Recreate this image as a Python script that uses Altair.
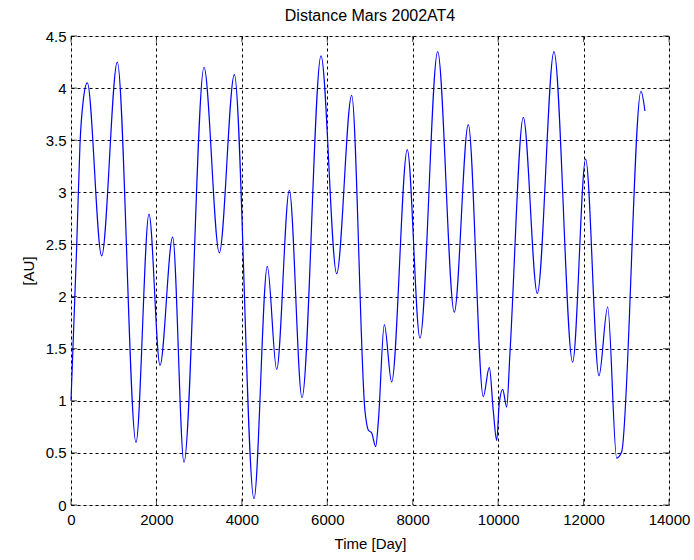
import altair as alt
import pandas as pd

days = [0, 133, 211, 289, 382, 718, 1084, 1522, 1826, 2084, 2380, 2645, 3114, 3472, 3824,
        4284, 4596, 4815, 5111, 5408, 5853, 6220, 6571, 6883, 6960, 7040, 7133, 7195, 7335,
        7507, 7873, 8170, 8584, 8973, 9301, 9653, 9793, 9887, 9966, 10027, 10106, 10200,
        10277, 10589, 10917, 11307, 11744, 12049, 12361, 12564, 12775, 12892, 13344, 13437]
dist = [1.00, 2.48, 3.47, 3.89, 4.05, 2.39, 4.25, 0.60, 2.79, 1.34, 2.57, 0.41, 4.20, 2.42, 4.13,
        0.06, 2.29, 1.30, 3.02, 1.03, 4.31, 2.22, 3.93, 0.90, 0.72, 0.69, 0.56, 0.80, 1.73,
        1.18, 3.41, 1.60, 4.35, 1.85, 3.65, 1.04, 1.32, 0.90, 0.62, 0.98, 1.11, 0.94,
        1.46, 3.72, 2.03, 4.35, 1.37, 3.32, 1.24, 1.90, 0.45, 0.51, 3.97, 3.78]
x_ticks = [0, 2000, 4000, 6000, 8000, 10000, 12000, 14000]
y_ticks = [0, 0.5, 1, 1.5, 2, 2.5, 3, 3.5, 4, 4.5]

W, H = 598, 469
FONT = "Liberation Sans"

df = pd.DataFrame({"day": days, "dist": dist})
xt = pd.DataFrame({"t": x_ticks})
yt = pd.DataFrame({"t": y_ticks})

xscale = alt.Scale(domain=[0, 14000], nice=False, zero=False)
yscale = alt.Scale(domain=[0, 4.5], nice=False, zero=False)

grid_kw = dict(grid=True, gridColor="black", gridDash=[3, 3], gridOpacity=1, gridWidth=1,
               tickSize=0, domain=False, labelColor="black", labelFont=FONT, labelFontSize=15,
               titleFont=FONT, titleFontSize=15, titleFontWeight="normal", titleColor="black")

line = alt.Chart(df).mark_line(color="#0000ff", strokeWidth=1.2, interpolate="monotone").encode(
    x=alt.X("day:Q", scale=xscale,
            axis=alt.Axis(values=x_ticks, format="d", title="Time [Day]", labelPadding=7,
                          titlePadding=9, labelFlush=False, **grid_kw)),
    y=alt.Y("dist:Q", scale=yscale,
            axis=alt.Axis(values=y_ticks, format=".1~f", title="[AU]", labelPadding=5,
                          titlePadding=9, labelFlush=False, **grid_kw)),
)

xt_bottom = alt.Chart(xt).mark_tick(color="black", thickness=1, size=6, orient="vertical").encode(
    x=alt.X("t:Q", scale=xscale), y=alt.value(H - 3))
xt_top = alt.Chart(xt).mark_tick(color="black", thickness=1, size=6, orient="vertical").encode(
    x=alt.X("t:Q", scale=xscale), y=alt.value(3))
yt_left = alt.Chart(yt).mark_tick(color="black", thickness=1, size=6, orient="horizontal").encode(
    y=alt.Y("t:Q", scale=yscale), x=alt.value(3))
yt_right = alt.Chart(yt).mark_tick(color="black", thickness=1, size=6, orient="horizontal").encode(
    y=alt.Y("t:Q", scale=yscale), x=alt.value(W - 3))

chart = alt.layer(line, xt_bottom, xt_top, yt_left, yt_right).properties(
    width=W, height=H,
    title=alt.TitleParams("Distance Mars 2002AT4", font=FONT, fontSize=16, fontWeight="normal",
                          color="black", offset=5),
    autosize=alt.AutoSizeParams(type="none"),
    padding={"left": 71, "top": 36, "right": 25, "bottom": 55},
).configure_view(stroke="black", strokeWidth=1).configure(background="white")

chart.save("out.html", embed_options={"renderer": "svg", "actions": False})
